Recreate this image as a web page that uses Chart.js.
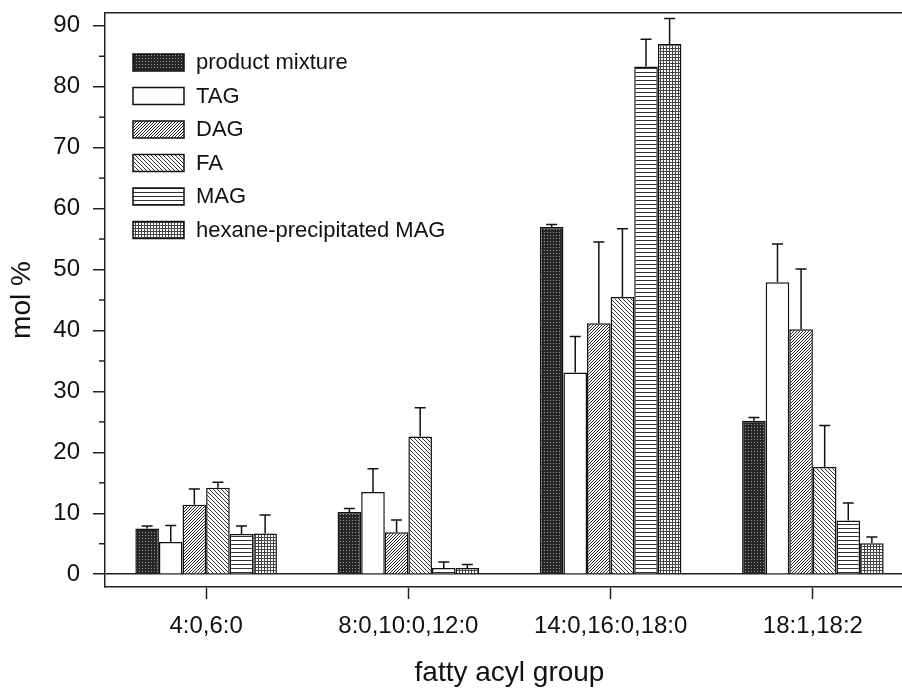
<!DOCTYPE html>
<html>
<head>
<meta charset="utf-8">
<script src="https://cdn.jsdelivr.net/npm/chart.js@4.4.0/dist/chart.umd.min.js"></script>
<style>
  html, body { margin: 0; padding: 0; background: #fff; overflow: hidden; }
</style>
</head>
<body>
<canvas id="molChart" width="916" height="691"></canvas>
<script>
// categories and series
const groups = ['4:0,6:0', '8:0,10:0,12:0', '14:0,16:0,18:0', '18:1,18:2'];
const seriesNames = ['product mixture', 'TAG', 'DAG', 'FA', 'MAG', 'hexane-precipitated MAG'];

const productMixture = [7.5, 10.2, 57.0, 25.2];
const tag = [5.3, 13.5, 33.1, 47.9];
const dag = [11.4, 6.9, 41.2, 40.2];
const fa = [14.2, 22.6, 45.5, 17.6];
const mag = [6.6, 1.0, 83.3, 8.8];
const hexMag = [6.7, 1.0, 87.0, 5.1];

// upper error bars only
const productMixtureErr = [0.4, 0.6, 0.4, 0.5];
const tagErr = [2.7, 3.8, 5.9, 6.3];
const dagErr = [2.6, 2.0, 13.3, 9.9];
const faErr = [0.9, 4.7, 11.2, 6.8];
const magErr = [1.3, 1.0, 4.5, 2.9];
const hexMagErr = [3.0, 0.6, 4.2, 1.0];

const majorTicks = [0, 10, 20, 30, 40, 50, 60, 70, 80, 90];
const minorTicks = [5, 15, 25, 35, 45, 55, 65, 75, 85];

Chart.defaults.font.family = '"Liberation Sans", Arial, sans-serif';
Chart.defaults.color = '#111';

var ctx = document.getElementById('molChart');

// little tiles for the hatch fills
function makePattern(size, draw) {
  const c = document.createElement('canvas');
  c.width = size;
  c.height = size;
  const g = c.getContext('2d');
  g.fillStyle = '#fff';
  g.fillRect(0, 0, size, size);
  draw(g);
  return g.createPattern(c, 'repeat');
}

const dotsFill = makePattern(3, g => {
  g.fillStyle = '#262626';
  g.fillRect(0, 0, 3, 3);
  g.fillStyle = '#9a9a9a';
  g.fillRect(1, 1, 1, 1);
});
const upHatch = makePattern(3, g => {
  g.fillStyle = '#222';
  g.fillRect(0, 2, 1, 1); g.fillRect(1, 1, 1, 1); g.fillRect(2, 0, 1, 1);
});
const downHatch = makePattern(4, g => {
  g.fillStyle = '#333';
  for (let i = 0; i < 4; i++) g.fillRect(i, i, 1, 1);
});
const hLines = makePattern(4, g => {
  g.fillStyle = '#333';
  g.fillRect(0, 0, 4, 1);
});
const gridFill = makePattern(3, g => {
  g.fillStyle = '#444';
  g.fillRect(0, 0, 3, 1);
  g.fillRect(0, 0, 1, 3);
});

function bars(label, data, errors, fill) {
  return {
    label: label,
    data: data,
    errors: errors,
    backgroundColor: fill,
    borderColor: '#111',
    borderWidth: 1.5,
    categoryPercentage: 0.7,
    barPercentage: 1.0
  };
}

const barData = {
  labels: groups,
  datasets: [
    bars(seriesNames[0], productMixture, productMixtureErr, dotsFill),
    bars(seriesNames[1], tag, tagErr, '#fff'),
    bars(seriesNames[2], dag, dagErr, upHatch),
    bars(seriesNames[3], fa, faErr, downHatch),
    bars(seriesNames[4], mag, magErr, hLines),
    bars(seriesNames[5], hexMag, hexMagErr, gridFill)
  ]
};

// T-shaped upper error bars
const errorBars = {
  id: 'errorBars',
  afterDatasetsDraw(chart) {
    const c = chart.ctx;
    const y = chart.scales.y;
    c.save();
    c.strokeStyle = '#111';
    c.lineWidth = 1.5;
    chart.data.datasets.forEach((ds, i) => {
      chart.getDatasetMeta(i).data.forEach((bar, j) => {
        const top = y.getPixelForValue(ds.data[j] + ds.errors[j]);
        c.beginPath();
        c.moveTo(bar.x, bar.y);
        c.lineTo(bar.x, top);
        c.moveTo(bar.x - 5.5, top);
        c.lineTo(bar.x + 5.5, top);
        c.stroke();
      });
    });
    c.restore();
  }
};

// short minor ticks on the y axis
const minorTickMarks = {
  id: 'minorTickMarks',
  afterDraw(chart) {
    const c = chart.ctx;
    const y = chart.scales.y;
    const left = chart.chartArea.left;
    c.save();
    c.strokeStyle = '#222';
    c.lineWidth = 1.5;
    minorTicks.forEach(v => {
      const py = y.getPixelForValue(v);
      c.beginPath();
      c.moveTo(left - 6, py);
      c.lineTo(left, py);
      c.stroke();
    });
    c.restore();
  }
};

// legend sitting inside the plot, top-left
const insideLegend = {
  id: 'insideLegend',
  afterDraw(chart) {
    const c = chart.ctx;
    const area = chart.chartArea;
    const x0 = area.left + 28;
    const y0 = area.top + 41;
    c.save();
    c.font = '22px "Liberation Sans", Arial, sans-serif';
    c.textBaseline = 'middle';
    chart.data.datasets.forEach((ds, i) => {
      const yy = y0 + i * 33.5;
      c.fillStyle = ds.backgroundColor;
      c.fillRect(x0, yy, 51, 17);
      c.strokeStyle = '#111';
      c.lineWidth = 1.5;
      c.strokeRect(x0, yy, 51, 17);
      c.fillStyle = '#111';
      c.fillText(ds.label, x0 + 63, yy + 9);
    });
    c.restore();
  }
};

// no extra room for half-labels, the frame is set by hand
function noPad(s) {
  s.paddingTop = 0;
  s.paddingBottom = 0;
  s.paddingLeft = 0;
  s.paddingRight = 0;
}

const barConfig = {
  type: 'bar',
  data: barData,
  options: {
    responsive: false,
    animation: false,
    layout: { autoPadding: false, padding: { left: 0, right: 2, top: 0, bottom: 0 } },
    plugins: {
      legend: { display: false },
      tooltip: { enabled: false }
    },
    scales: {
      x: {
        position: 'bottom',
        offset: true,
        grid: { offset: false, drawOnChartArea: false, tickLength: 12, tickWidth: 1.5, tickColor: '#222' },
        border: { color: '#222', width: 1.5 },
        ticks: { font: { size: 24 }, padding: 13, maxRotation: 0, autoSkip: false },
        title: { display: true, text: 'fatty acyl group', font: { size: 28 }, padding: { top: 4, bottom: 1 } },
        afterFit: s => { s.height = 104; noPad(s); }
      },
      xTop: {
        type: 'category',
        position: 'top',
        ticks: { display: false },
        grid: { display: false, drawTicks: false },
        border: { color: '#222', width: 1.5 },
        afterFit: s => { s.height = 13; noPad(s); }
      },
      y: {
        min: -2.1,
        max: 92.1,
        afterBuildTicks: s => { s.ticks = majorTicks.map(v => ({ value: v })); },
        grid: {
          color: c => (c.tick && c.tick.value === 0 ? '#222' : 'rgba(0,0,0,0)'),
          lineWidth: 1.5,
          tickLength: 12,
          tickColor: '#222'
        },
        border: { color: '#222', width: 1.5 },
        ticks: { font: { size: 24 }, padding: 13 },
        title: { display: true, text: 'mol %', font: { size: 28 }, padding: { top: 5, bottom: 0 } },
        afterFit: s => { s.width = 105; noPad(s); }
      }
    }
  },
  plugins: [errorBars, minorTickMarks, insideLegend]
};

const myBarChart = new Chart(ctx, barConfig);
</script>
</body>
</html>
